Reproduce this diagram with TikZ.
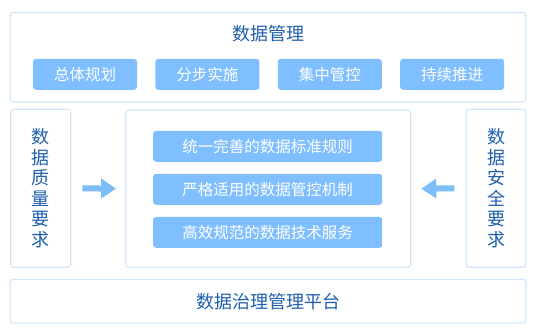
\documentclass[tikz,border=0pt]{standalone}
\usepackage{fontspec}
\newfontfamily\cjk{Noto Sans CJK SC}
\usetikzlibrary{arrows.meta,positioning}
\definecolor{panelline}{HTML}{D3E7FB}
\definecolor{tagblue}{HTML}{80BFFF}
\definecolor{textblue}{HTML}{1F5FAD}
\definecolor{arrowblue}{HTML}{7DBEF8}

\begin{document}
\begin{tikzpicture}[
    x=1pt, y=-1pt,
    font=\cjk,
    panel/.style={draw=panelline, line width=1.2pt, rounded corners=3pt, fill=white},
    title/.style={text=textblue, font=\cjk\fontsize{18}{20.5}\selectfont, inner sep=0pt},
    tag/.style={fill=tagblue, rounded corners=3pt, text=white, inner sep=0pt,
                font=\cjk\fontsize{15.5}{18}\selectfont, minimum height=31pt},
    vtext/.style={panel, text=textblue, align=center, text width=18pt, inner sep=0pt,
                  font=\cjk\fontsize{18}{20.5}\selectfont, minimum width=60pt, minimum height=158pt},
    arr/.style={-{Triangle[width=19pt,length=15pt]}, line width=6pt, arrowblue}
  ]
  \path[fill=white] (0,0) rectangle (538,333);
  % top panel
  \node[panel, minimum width=516pt, minimum height=89.6pt] (mgmt) at (268,57.2) {};
  \node[title] (mgmtt) at (268,33.3) {数据管理};
  \node[tag, minimum width=104pt] (plan) at (85,74.3) {总体规划};
  \node[tag, minimum width=104pt, right=18pt of plan] (step) {分步实施};
  \node[tag, minimum width=104pt, right=18pt of step] (ctrl) {集中管控};
  \node[tag, minimum width=104pt, right=18pt of ctrl] (push) {持续推进};
  % middle row
  \node[vtext] (qual) at (40.7,188.3) {数\\据\\质\\量\\要\\求};
  \node[vtext] (safe) at (496,188.3) {数\\据\\安\\全\\要\\求};
  \node[panel, minimum width=285pt, minimum height=157.3pt] (core) at (268.2,188.7) {};
  \node[tag, minimum width=229pt] (rule) at (267.7,146.3) {统一完善的数据标准规则};
  \node[tag, minimum width=229pt, below=11.6pt of rule] (mech) {严格适用的数据管控机制};
  \node[tag, minimum width=229pt, below=11.6pt of mech] (serv) {高效规范的数据技术服务};
  \draw[arr] ([xshift=11pt]qual.east) -- ([xshift=-9pt]core.west);
  \draw[arr] ([xshift=-11pt]safe.west) -- ([xshift=10pt]core.east);
  % bottom panel
  \node[panel, minimum width=516pt, minimum height=43.7pt, text=textblue,
        font=\cjk\fontsize{18}{20.5}\selectfont] (plat) at (268,301.2) {数据治理管理平台};
\end{tikzpicture}
\end{document}
